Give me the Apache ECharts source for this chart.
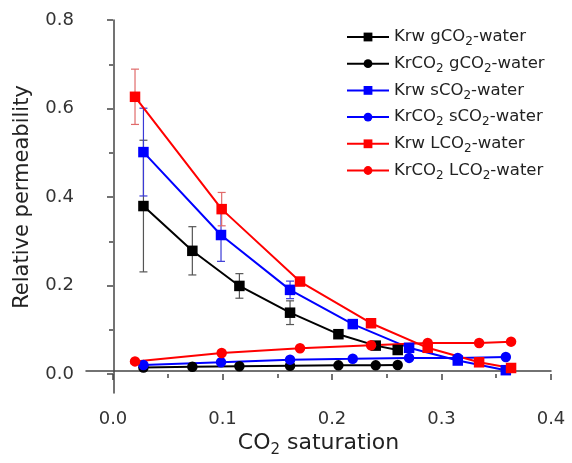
<!DOCTYPE html>
<html>
<head>
<meta charset="utf-8">
<script src="https://cdn.jsdelivr.net/npm/echarts@6/dist/echarts.min.js"></script>
<style>
  html, body { margin: 0; padding: 0; background: #fff; }
  #chart { width: 572px; height: 463px; }
</style>
</head>
<body>
<div id="chart"></div>
<script>
// x positions (CO2 saturation) per fluid
const satG = [0.0275, 0.0722, 0.1152, 0.1615, 0.2057, 0.2398, 0.2599];
const satS = [0.0275, 0.0984, 0.1615, 0.2188, 0.2703, 0.3148, 0.3587];
const satL = [0.0198, 0.0990, 0.1706, 0.2355, 0.2873, 0.3343, 0.3635];

// relative permeability of water
const krwG = [0.376, 0.274, 0.194, 0.133, 0.084, 0.058, 0.048];
const krwS = [0.499, 0.310, 0.185, 0.107, 0.053, 0.024, 0.002];
const krwL = [0.625, 0.369, 0.204, 0.109, 0.053, 0.020, 0.007];

// relative permeability of CO2
const krcG = [0.008, 0.010, 0.011, 0.012, 0.013, 0.013, 0.014];
const krcS = [0.014, 0.020, 0.026, 0.028, 0.030, 0.030, 0.032];
const krcL = [0.022, 0.041, 0.052, 0.059, 0.064, 0.064, 0.067];

// error bars (+/-) on the water curves, first points only
const errG = [0.15, 0.055, 0.028, 0.027];
const errS = [0.10, 0.06, 0.02];
const errL = [0.063, 0.038];

const xTicks = [0, 0.4, 0.1];
const yTicks = [0, 0.8, 0.2];

const FONT = 'DejaVu Sans';
const sub = { fontSize: 12, lineHeight: 11, padding: [9, 0, 0, 0], verticalAlign: 'top', fontFamily: FONT };

function pairs(xs, ys) {
  return xs.map((x, i) => [x, ys[i]]);
}

function errData(xs, ys, es) {
  return es.map((e, i) => [xs[i], ys[i], e]);
}

function lineSeries(name, xs, ys, color, symbol) {
  return {
    name: name,
    type: 'line',
    data: pairs(xs, ys),
    symbol: symbol,
    symbolSize: 10.5,
    lineStyle: { color: color, width: 2 },
    itemStyle: { color: color },
    z: 3
  };
}

function errSeries(xs, ys, es, color) {
  return {
    type: 'custom',
    data: errData(xs, ys, es),
    z: 2,
    renderItem: function (params, api) {
      const x = api.value(0), y = api.value(1), e = api.value(2);
      const top = api.coord([x, y + e]);
      const bot = api.coord([x, y - e]);
      const st = { stroke: color, lineWidth: 1.2 };
      return {
        type: 'group',
        children: [
          { type: 'line', shape: { x1: top[0], y1: top[1], x2: bot[0], y2: bot[1] }, style: st },
          { type: 'line', shape: { x1: top[0] - 4, y1: top[1], x2: top[0] + 4, y2: top[1] }, style: st },
          { type: 'line', shape: { x1: bot[0] - 4, y1: bot[1], x2: bot[0] + 4, y2: bot[1] }, style: st }
        ]
      };
    }
  };
}

const names = [
  'Krw gCO2-water', 'KrCO2 gCO2-water',
  'Krw sCO2-water', 'KrCO2 sCO2-water',
  'Krw LCO2-water', 'KrCO2 LCO2-water'
];

const fmt1 = v => v.toFixed(1);

const myChart = echarts.init(document.getElementById('chart'));
const option = {
  animation: false,
  textStyle: { fontFamily: FONT },
  grid: [
    { left: 86, right: 21, top: 20, bottom: 67 },
    { left: 113, right: 21, top: 20, bottom: 89 }
  ],
  legend: {
    data: names,
    orient: 'vertical',
    left: 341,
    top: 22,
    itemWidth: 42,
    itemHeight: 11,
    itemGap: 5.7,
    formatter: function (n) {
      return n.replace(/CO2/g, 'CO{s|2}');
    },
    textStyle: {
      fontFamily: FONT,
      fontSize: 16.5,
      lineHeight: 20,
      color: '#222',
      rich: { s: sub }
    }
  },
  xAxis: [
    {
      gridIndex: 0,
      type: 'value',
      min: -0.025,
      max: 0.4,
      axisLine: { lineStyle: { color: '#444', width: 1.5 } },
      axisTick: { show: false },
      axisLabel: { show: false },
      splitLine: { show: false },
      name: 'CO{s|2} saturation',
      nameLocation: 'middle',
      nameGap: 37,
      nameTextStyle: {
        fontFamily: FONT,
        fontSize: 22,
        color: '#222',
        lineHeight: 26,
        rich: { s: { fontSize: 15, lineHeight: 16, padding: [13, 0, 0, 0], verticalAlign: 'top', fontFamily: FONT } }
      }
    },
    {
      gridIndex: 1,
      type: 'value',
      min: xTicks[0],
      max: xTicks[1],
      interval: xTicks[2],
      offset: 22,
      axisLine: { show: false },
      axisTick: { show: true, length: 6, lineStyle: { color: '#444', width: 1.5 } },
      minorTick: { show: true, splitNumber: 2, length: 4, lineStyle: { color: '#444', width: 1.5 } },
      axisLabel: { fontSize: 18, color: '#333', margin: 14, fontFamily: FONT, formatter: fmt1 },
      splitLine: { show: false }
    }
  ],
  yAxis: [
    {
      gridIndex: 0,
      type: 'value',
      min: -0.05,
      max: 0.8,
      axisLine: { show: true, lineStyle: { color: '#444', width: 1.5 } },
      axisTick: { show: false },
      axisLabel: { show: false },
      splitLine: { show: false }
    },
    {
      gridIndex: 1,
      type: 'value',
      min: yTicks[0],
      max: yTicks[1],
      interval: yTicks[2],
      offset: 27,
      axisLine: { show: false },
      axisTick: { show: true, length: 6, lineStyle: { color: '#444', width: 1.5 } },
      minorTick: { show: true, splitNumber: 2, length: 4, lineStyle: { color: '#444', width: 1.5 } },
      axisLabel: { fontSize: 18, color: '#333', margin: 12, fontFamily: FONT, formatter: fmt1 },
      splitLine: { show: false },
      name: 'Relative permeability',
      nameLocation: 'middle',
      nameGap: 53,
      nameTextStyle: { fontFamily: FONT, fontSize: 21, color: '#222' }
    }
  ],
  series: [
    errSeries(satG, krwG, errG, '#555'),
    errSeries(satS, krwS, errS, '#3a3ad6'),
    errSeries(satL, krwL, errL, '#e06a6a'),
    lineSeries(names[0], satG, krwG, '#000', 'rect'),
    lineSeries(names[1], satG, krcG, '#000', 'circle'),
    lineSeries(names[2], satS, krwS, '#0000ff', 'rect'),
    lineSeries(names[3], satS, krcS, '#0000ff', 'circle'),
    lineSeries(names[4], satL, krwL, '#ff0000', 'rect'),
    lineSeries(names[5], satL, krcL, '#ff0000', 'circle')
  ]
};
myChart.setOption(option);
window.addEventListener('resize', () => {
  myChart.resize();
});
</script>
</body>
</html>
